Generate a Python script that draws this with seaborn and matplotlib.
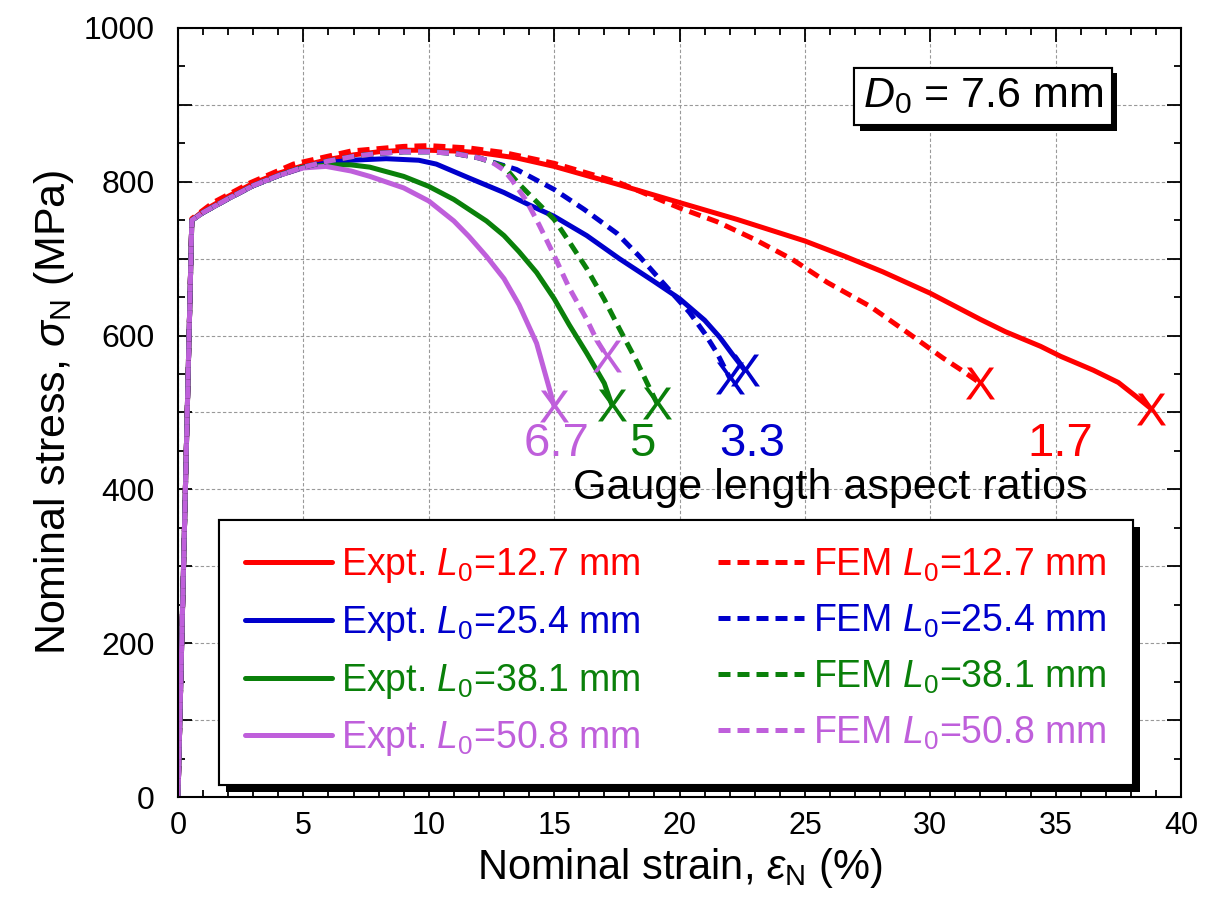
import numpy as np
import pandas as pd
import matplotlib
matplotlib.use("Agg")
import matplotlib.pyplot as plt
import matplotlib.patheffects as pe
from matplotlib.ticker import MultipleLocator, FuncFormatter
import seaborn as sns

# ==========================================
# DATA (strain in %, stress in MPa)
# ==========================================
expt_127_e = [0, 0.55, 1, 2, 3, 4, 5, 6, 7, 8, 9, 10, 11, 12, 13.5, 15, 17.5, 20, 22.3, 25,
              26.6, 28.1, 30, 32, 33, 34.4, 35.2, 36.5, 37.5, 38.2, 38.8]
expt_127_s = [0, 750, 762, 781, 798, 811, 821, 829, 835, 839, 841, 841, 840, 838, 831, 820, 797, 773, 751, 723,
              703, 683, 655, 621, 605, 586, 573, 555, 539, 521, 505]

expt_254_e = [0, 0.55, 1, 2, 3, 4, 5, 6, 6.9, 8.3, 9.6, 10.3, 11.6, 13, 14, 15, 16.3, 17.6, 19, 20,
              21, 21.6, 22.1, 22.6]
expt_254_s = [0, 750, 760, 778, 795, 808, 819, 825, 828, 830, 828, 823, 805, 786, 770, 755, 730, 700, 670, 648,
              620, 598, 576, 555]

expt_381_e = [0, 0.55, 1, 2, 3, 4, 5, 6, 6.9, 7.65, 9, 10, 11, 12.3, 13, 13.6, 14.3, 15, 15.6, 16.3, 17, 17.3]
expt_381_s = [0, 750, 760, 778, 795, 808, 819, 822, 822, 819, 807, 794, 777, 749, 730, 709, 682, 648, 614, 577, 538, 510]

expt_508_e = [0, 0.55, 1, 2, 3, 4, 5, 5.9, 6.9, 7.65, 9, 10, 11, 11.6, 12.3, 13, 13.6, 14.3, 14.8, 15.0]
expt_508_s = [0, 750, 760, 778, 795, 808, 818, 820, 814, 807, 792, 775, 749, 729, 703, 674, 640, 590, 532, 508]

fem_127_e = [0, 0.55, 1.4, 2.9, 4.6, 6.9, 9, 10, 11.6, 13, 15, 17.5, 20, 21.5, 23, 24.5, 25.9, 27.6, 29, 30.5, 31.2, 32.0]
fem_127_s = [0, 752, 773, 799, 823, 840, 846, 847, 844, 838, 824, 800, 766, 748, 725, 699, 669, 638, 606, 571, 556, 538]

fem_254_e = [0, 0.55, 1, 2, 3, 4, 5, 6, 7, 8, 9, 10, 11, 12, 13.5, 15, 16.2, 17.5, 18.4, 19.3, 20.4, 21, 21.5, 22.0]
fem_254_s = [0, 750, 760, 778, 795, 808, 819, 827, 833, 837, 839, 839, 837, 831, 816, 790, 764, 733, 703, 670, 630, 603, 577, 545]

fem_381_e = [0, 0.55, 1, 2, 3, 4, 5, 6, 7, 8, 9, 10, 11, 12, 13, 13.6, 14.3, 15, 15.6, 16.3, 17, 17.6, 18.3, 18.8, 19.1]
fem_381_s = [0, 750, 760, 778, 795, 808, 819, 827, 833, 837, 839, 839, 837, 831, 820, 797, 774, 751, 722, 687, 647, 609, 566, 532, 512]

fem_508_e = [0, 0.55, 1, 2, 3, 4, 5, 6, 7, 8, 9, 10, 11, 12, 12.5, 13, 13.3, 13.9, 14.4, 15, 15.6, 16.3, 16.7, 17.1]
fem_508_s = [0, 750, 760, 778, 795, 808, 819, 827, 833, 837, 839, 839, 837, 831, 826, 815, 803, 775, 744, 704, 662, 621, 594, 573]

gauge_lengths = ['12.7', '25.4', '38.1', '50.8']
aspect_ratios = ['1.7', '3.3', '5', '6.7']
ratio_label_x = [35.2, 22.9, 18.5, 15.1]

RED, BLUE, GREEN, PURPLE = '#FF0000', '#0000CC', '#0A800A', '#BF5FDB'
colors = [RED, BLUE, GREEN, PURPLE]

# ==========================================
# STYLE
# ==========================================
sns.set_theme(style="ticks")
plt.rcParams['font.family'] = ['Liberation Sans', 'DejaVu Sans']
plt.rcParams['mathtext.fontset'] = 'custom'
plt.rcParams['mathtext.rm'] = 'Liberation Sans'
plt.rcParams['mathtext.it'] = 'Liberation Sans:italic'
plt.rcParams['mathtext.bf'] = 'Liberation Sans:bold'
for key in ['text.color', 'axes.labelcolor', 'xtick.color', 'ytick.color', 'axes.edgecolor']:
    plt.rcParams[key] = 'black'

fig = plt.figure(figsize=(12.07, 9.02), dpi=100)
ax = fig.add_axes([0.1475, 0.1164, 0.831, 0.8526])

expt = [(expt_127_e, expt_127_s), (expt_254_e, expt_254_s),
        (expt_381_e, expt_381_s), (expt_508_e, expt_508_s)]
fem = [(fem_127_e, fem_127_s), (fem_254_e, fem_254_s),
       (fem_381_e, fem_381_s), (fem_508_e, fem_508_s)]

dash = (0, (2.4, 1.4))
for kind, group, ls in [('Expt.', expt, '-'), ('FEM', fem, dash)]:
    for (e, s), c, g in zip(group, colors, gauge_lengths):
        sns.lineplot(x=e, y=s, color=c, lw=3.6, linestyle=ls, sort=False,
                     estimator=None, label=kind + r' $L_0$=' + g + ' mm', ax=ax)
        # fracture mark at the end of the curve
        ax.plot(e[-1], s[-1], marker=r'$\mathrm{X}$', ms=23, mew=0, color=c, ls='none')

# aspect ratio annotations
for lab, xpos, c in zip(aspect_ratios, ratio_label_x, colors):
    ax.text(xpos, 459, lab, color=c, fontsize=34, ha='center', va='center')
ax.text(26.0, 402, 'Gauge length aspect ratios', fontsize=31, ha='center', va='center')

t = ax.text(32.1, 911, r'$D_0$ = 7.6 mm', fontsize=31, ha='center', va='center',
            bbox=dict(boxstyle='square,pad=0.2', fc='white', ec='black', lw=1.5))
t.get_bbox_patch().set_path_effects([
    pe.withSimplePatchShadow(offset=(4, -4), shadow_rgbFace='black', alpha=1), pe.Normal()])

# axes
ax.set_xlim(0, 40)
ax.set_ylim(0, 1000)
ax.xaxis.set_major_locator(MultipleLocator(5))
ax.xaxis.set_minor_locator(MultipleLocator(1))
ax.yaxis.set_major_locator(MultipleLocator(100))
ax.yaxis.set_minor_locator(MultipleLocator(50))
ax.yaxis.set_major_formatter(FuncFormatter(lambda v, p: f'{v:.0f}' if round(v) % 200 == 0 else ''))
ax.tick_params(which='both', direction='in', top=True, right=True, width=1.3, color='black')
ax.tick_params(which='major', length=10)
ax.tick_params(which='minor', length=5)
ax.tick_params(axis='x', labelsize=22, pad=10)
ax.tick_params(axis='y', labelsize=23, pad=17)
for sp in ax.spines.values():
    sp.set_color('black')
    sp.set_linewidth(1.5)
ax.grid(True, which='major', color='0.6', ls=(0, (3, 2)), lw=0.8)
ax.set_axisbelow(True)

ax.set_xlabel(r'Nominal strain, $\varepsilon_\mathrm{N}$ (%)', fontsize=30, labelpad=4)
ax.set_ylabel(r'Nominal stress, $\sigma_\mathrm{N}$ (MPa)', fontsize=31, labelpad=5)

handles, labels = ax.get_legend_handles_labels()
leg = ax.legend(handles, labels, ncol=2, loc='lower left',
                bbox_to_anchor=(0.041, 0.016, 0.911, 0.342), mode='expand',
                fontsize=27, labelcolor='linecolor', frameon=True, fancybox=False,
                edgecolor='black', framealpha=1, handlelength=2.3, handletextpad=0.24,
                borderpad=0.7, labelspacing=0.5, borderaxespad=0)
leg.get_frame().set_linewidth(1.5)
leg.get_frame().set_path_effects([
    pe.withSimplePatchShadow(offset=(5, -5), shadow_rgbFace='black', alpha=1), pe.Normal()])

plt.savefig('out.png', dpi=100)
